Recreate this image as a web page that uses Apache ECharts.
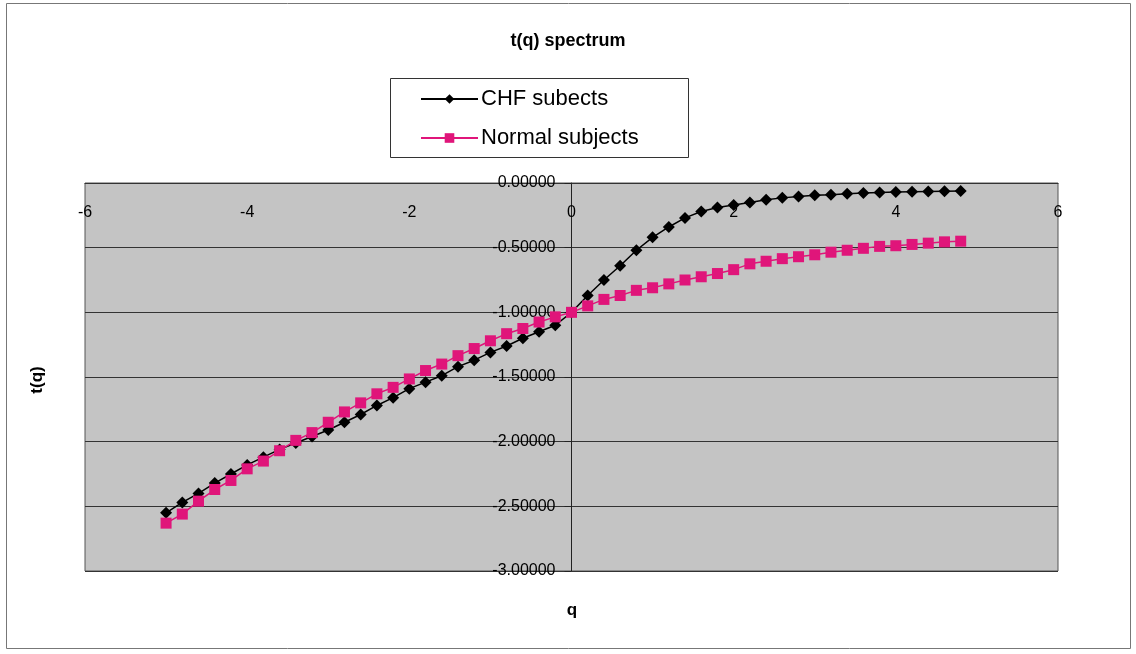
<!DOCTYPE html>
<html>
<head>
<meta charset="utf-8">
<script src="https://cdn.jsdelivr.net/npm/echarts@6/dist/echarts.min.js"></script>
<style>
  html, body { margin: 0; padding: 0; background: #fff; }
  #chart { width: 1136px; height: 654px; }
</style>
</head>
<body>
<div id="chart"></div>
<script>
// q values (x)
const qValues = [-5.0,-4.8,-4.6,-4.4,-4.2,-4.0,-3.8,-3.6,-3.4,-3.2,-3.0,-2.8,-2.6,-2.4,-2.2,-2.0,-1.8,-1.6,-1.4,-1.2,-1.0,-0.8,-0.6,-0.4,-0.2,0.0,
  0.2,0.4,0.6,0.8,1.0,1.2,1.4,1.6,1.8,2.0,2.2,2.4,2.6,2.8,3.0,3.2,3.4,3.6,3.8,4.0,4.2,4.4,4.6,4.8];

// CHF subjects t(q)
const chfTau = [-2.55,-2.47,-2.40,-2.32,-2.25,-2.18,-2.12,-2.06,-2.01,-1.96,-1.91,-1.85,-1.79,-1.72,-1.66,-1.59,-1.54,-1.49,-1.42,-1.37,-1.31,-1.26,-1.20,-1.15,-1.10,-1.00,
  -0.87,-0.75,-0.64,-0.52,-0.42,-0.34,-0.27,-0.22,-0.19,-0.17,-0.15,-0.13,-0.115,-0.105,-0.095,-0.09,-0.083,-0.078,-0.073,-0.07,-0.067,-0.065,-0.063,-0.061];

// Normal subjects t(q)
const normalTau = [-2.63,-2.56,-2.46,-2.37,-2.30,-2.21,-2.15,-2.07,-1.99,-1.93,-1.85,-1.77,-1.70,-1.63,-1.58,-1.515,-1.45,-1.40,-1.335,-1.28,-1.22,-1.165,-1.125,-1.075,-1.035,-1.00,
  -0.95,-0.90,-0.87,-0.83,-0.81,-0.78,-0.75,-0.725,-0.70,-0.67,-0.625,-0.605,-0.585,-0.57,-0.555,-0.535,-0.52,-0.505,-0.49,-0.485,-0.475,-0.465,-0.455,-0.45];

const seriesNames = ['CHF subects', 'Normal subjects'];

const GRID_LEFT = 85, GRID_RIGHT = 78;
const GRID_W = 1136 - GRID_LEFT - GRID_RIGHT;

const chart = echarts.init(document.getElementById('chart'), null, { renderer: 'canvas' });
const FONT = 'Liberation Sans, Arial, sans-serif';

chart.setOption({
  backgroundColor: '#ffffff',
  animation: false,
  textStyle: { fontFamily: FONT },
  grid: {
    left: GRID_LEFT, right: GRID_RIGHT, top: 183, bottom: 83,
    show: true, backgroundColor: '#c4c4c4', borderColor: '#555', borderWidth: 1
  },
  legend: {
    orient: 'vertical',
    left: 420, top: 88,
    itemWidth: 57, itemHeight: 12,
    itemGap: 17,
    padding: 0,
    textStyle: { fontSize: 22, color: '#000', fontFamily: FONT, padding: [0,0,0,-2] },
    data: seriesNames
  },
  xAxis: {
    type: 'value', min: -6, max: 6, interval: 2,
    position: 'top',
    axisLine: { onZero: false, lineStyle: { color: '#333', width: 1 } },
    axisTick: { show: false },
    splitLine: { show: false },
    axisLabel: { inside: true, margin: 22, fontSize: 16, color: '#000', fontFamily: FONT }
  },
  yAxis: {
    type: 'value', min: -3, max: 0, interval: 0.5,
    position: 'left',
    offset: -GRID_W / 2,
    axisLine: { onZero: false, lineStyle: { color: '#222', width: 1 } },
    axisTick: { show: true, length: 7, lineStyle: { color: '#222' } },
    splitLine: { show: true, lineStyle: { color: '#333', width: 1 } },
    axisLabel: { fontSize: 16, color: '#000', margin: 16, fontFamily: FONT,
      formatter: v => v.toFixed(5) }
  },
  graphic: [
    { type: 'rect', silent: true, z: -1, shape: { x: 6.5, y: 3.5, width: 1124, height: 645 },
      style: { fill: 'none', stroke: '#777', lineWidth: 1 } },
    { type: 'rect', silent: true, shape: { x: 390.5, y: 78.5, width: 298, height: 79 },
      style: { fill: 'none', stroke: '#333', lineWidth: 1 } },
    { type: 'text', left: 'center', top: 32,
      style: { text: 't(q) spectrum', font: 'bold 18px ' + FONT, fill: '#000' } },
    { type: 'text', x: 572, y: 602,
      style: { text: 'q', font: 'bold 17px ' + FONT, fill: '#000', textAlign: 'center' } },
    { type: 'text', x: 37, y: 380, rotation: Math.PI / 2,
      style: { text: 't(q)', font: 'bold 17px ' + FONT, fill: '#000', textAlign: 'center', textVerticalAlign: 'middle' } }
  ],
  series: [
    {
      name: seriesNames[0], type: 'line',
      data: qValues.map((q, i) => [q, chfTau[i]]),
      symbol: 'diamond', symbolSize: 12,
      itemStyle: { color: '#000' },
      lineStyle: { color: '#000', width: 1.5 },
      z: 2
    },
    {
      name: seriesNames[1], type: 'line',
      data: qValues.map((q, i) => [q, normalTau[i]]),
      symbol: 'rect', symbolSize: 11,
      itemStyle: { color: '#e0157a' },
      lineStyle: { color: '#e0157a', width: 1.5 },
      z: 3
    }
  ]
});
</script>
</body>
</html>
